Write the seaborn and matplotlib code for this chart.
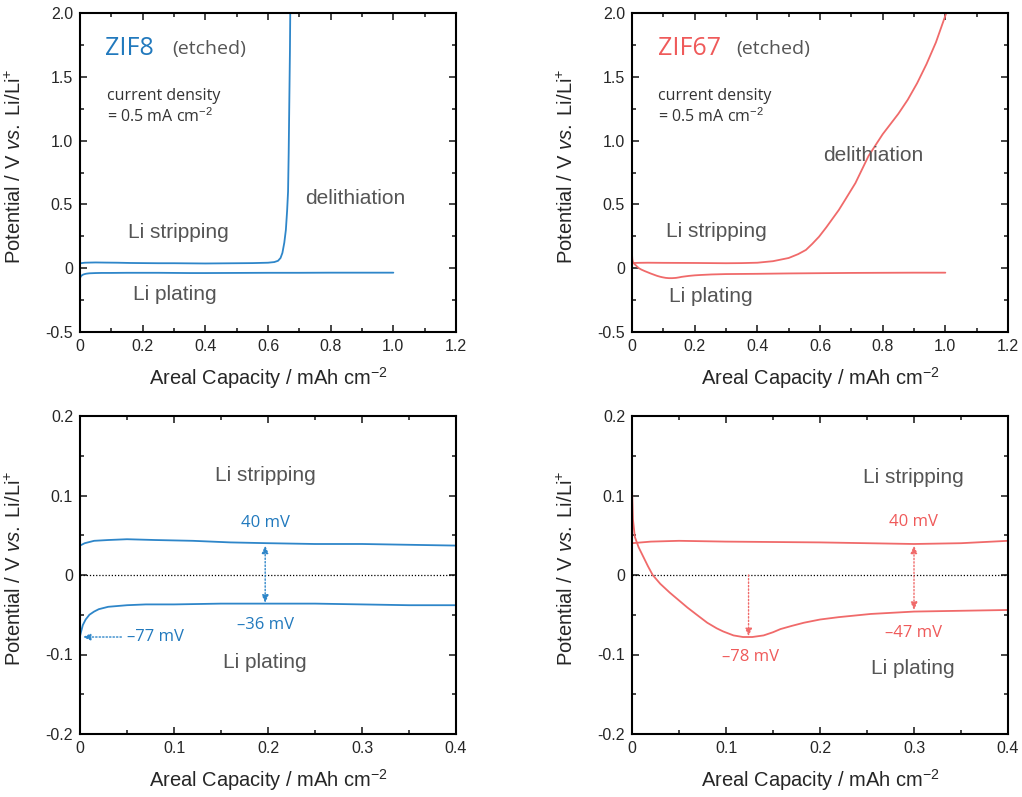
import matplotlib
matplotlib.use("Agg")
import matplotlib.pyplot as plt
import seaborn as sns
import pandas as pd
from matplotlib.ticker import MultipleLocator, FuncFormatter

# ---------------- data ----------------
zif8_strip_x = [0.0, 0.005, 0.015, 0.03, 0.05, 0.08, 0.12, 0.16, 0.2, 0.25, 0.3, 0.35, 0.4,
                0.45, 0.5, 0.55, 0.6, 0.62, 0.632, 0.64, 0.646, 0.652, 0.657, 0.661, 0.664,
                0.666, 0.668, 0.670, 0.671]
zif8_strip_y = [0.037, 0.040, 0.043, 0.044, 0.045, 0.044, 0.043, 0.041, 0.040, 0.039, 0.039,
                0.038, 0.037, 0.038, 0.039, 0.040, 0.043, 0.048, 0.058, 0.08, 0.12, 0.2, 0.3,
                0.45, 0.6, 0.9, 1.3, 1.7, 2.0]
zif8_plate_x = [0.0, 0.001, 0.003, 0.006, 0.01, 0.015, 0.02, 0.03, 0.04, 0.05, 0.07, 0.1, 0.15,
                0.2, 0.25, 0.3, 0.35, 0.4, 0.5, 0.6, 0.7, 0.8, 0.9, 1.0]
zif8_plate_y = [-0.077, -0.072, -0.063, -0.056, -0.050, -0.046, -0.043, -0.040, -0.039, -0.038,
                -0.037, -0.037, -0.036, -0.036, -0.036, -0.037, -0.038, -0.038, -0.037, -0.036,
                -0.036, -0.035, -0.035, -0.035]

zif67_strip_x = [0.0, 0.02, 0.05, 0.1, 0.2, 0.3, 0.35, 0.4, 0.45, 0.5, 0.53, 0.555, 0.575, 0.597,
                 0.62, 0.66, 0.68, 0.713, 0.755, 0.8, 0.85, 0.88, 0.91, 0.94, 0.97, 1.003]
zif67_strip_y = [0.040, 0.042, 0.043, 0.042, 0.041, 0.039, 0.040, 0.043, 0.055, 0.08, 0.11,
                 0.143, 0.19, 0.247, 0.32, 0.456, 0.535, 0.667, 0.88, 1.05, 1.21, 1.32, 1.45,
                 1.60, 1.77, 2.0]
zif67_plate_x = [0.0, 0.001, 0.003, 0.007, 0.012, 0.017, 0.022, 0.03, 0.04, 0.05, 0.059, 0.07,
                 0.08, 0.09, 0.097, 0.108, 0.118, 0.128, 0.14, 0.15, 0.158, 0.17, 0.183, 0.2,
                 0.22, 0.254, 0.3, 0.35, 0.4, 0.5, 0.6, 0.7, 0.8, 0.9, 1.0]
zif67_plate_y = [0.11, 0.07, 0.048, 0.035, 0.023, 0.011, 0.0, -0.011, -0.022, -0.032, -0.041,
                 -0.051, -0.060, -0.067, -0.071, -0.076, -0.078, -0.078, -0.076, -0.072, -0.068,
                 -0.064, -0.060, -0.056, -0.053, -0.049, -0.046, -0.045, -0.044, -0.041, -0.039,
                 -0.037, -0.036, -0.035, -0.035]

full_xticks = [0, 0.2, 0.4, 0.6, 0.8, 1.0, 1.2]
full_yticks = [-0.5, 0, 0.5, 1.0, 1.5, 2.0]
zoom_xticks = [0, 0.1, 0.2, 0.3, 0.4]
zoom_yticks = [-0.2, -0.1, 0, 0.1, 0.2]

# ---------------- style ----------------
sns.set_style("ticks")
plt.rcParams['font.family'] = ['Liberation Sans', 'DejaVu Sans']
plt.rcParams['mathtext.fontset'] = 'custom'
plt.rcParams['mathtext.rm'] = 'Liberation Sans'
plt.rcParams['mathtext.it'] = 'Liberation Sans:italic'
plt.rcParams['mathtext.bf'] = 'Liberation Sans:bold'
plt.rcParams['axes.unicode_minus'] = False

BLUE = "#2e86c9"
BLUE_T = "#2179bd"
RED = "#f06a6a"
RED_T = "#ef5a5a"
GRAY = "#555555"
DARK = "#333333"

W, H = 1022, 797
fig = plt.figure(figsize=(W / 100, H / 100), dpi=100)


def pos(l, t, r, b):
    return [l / W, 1 - b / H, (r - l) / W, (b - t) / H]


fmt = FuncFormatter(lambda v, p: "0" if abs(v) < 1e-9 else f"{v:.1f}")

XLABEL = "Areal Capacity / mAh cm$^{-2}$"
YLABEL = r"Potential / V $\it{vs.}$ Li/Li$^{+}$"


def style(ax, xticks, yticks, xminor, yminor):
    ax.set_xlim(xticks[0], xticks[-1])
    ax.set_ylim(yticks[0], yticks[-1])
    ax.set_xticks(xticks)
    ax.set_yticks(yticks)
    ax.xaxis.set_minor_locator(MultipleLocator(xminor))
    ax.yaxis.set_minor_locator(MultipleLocator(yminor))
    ax.xaxis.set_major_formatter(fmt)
    ax.yaxis.set_major_formatter(fmt)
    ax.tick_params(which='both', direction='in', top=True, right=True, width=1.2,
                   labelsize=11.5, pad=5)
    ax.tick_params(which='major', length=5)
    ax.tick_params(which='minor', length=3)
    for s in ax.spines.values():
        s.set_linewidth(1.5)
        s.set_color('black')
    ax.set_xlabel(XLABEL, fontsize=14.5)
    ax.set_ylabel(YLABEL, fontsize=14.5)
    ax.xaxis.set_label_coords(0.5, -0.105)
    ax.yaxis.set_label_coords(-0.145, 0.52)


def draw(ax, sx, sy, px, py, color):
    sns.lineplot(x=sx, y=sy, ax=ax, color=color, lw=1.3, sort=False, estimator=None)
    sns.lineplot(x=px, y=py, ax=ax, color=color, lw=1.3, sort=False, estimator=None)


ax_tl = fig.add_axes(pos(80, 13, 456, 332))
ax_tr = fig.add_axes(pos(632, 13, 1008, 332))
ax_bl = fig.add_axes(pos(80, 416, 456, 734))
ax_br = fig.add_axes(pos(632, 416, 1008, 734))

draw(ax_tl, zif8_strip_x, zif8_strip_y, zif8_plate_x, zif8_plate_y, BLUE)
draw(ax_bl, zif8_strip_x, zif8_strip_y, zif8_plate_x, zif8_plate_y, BLUE)
draw(ax_tr, zif67_strip_x, zif67_strip_y, zif67_plate_x, zif67_plate_y, RED)
draw(ax_br, zif67_strip_x, zif67_strip_y, zif67_plate_x, zif67_plate_y, RED)

for ax in (ax_tl, ax_tr):
    style(ax, full_xticks, full_yticks, 0.1, 0.25)
for ax in (ax_bl, ax_br):
    style(ax, zoom_xticks, zoom_yticks, 0.05, 0.05)
    ax.axhline(0, color='black', lw=0.9, ls=(0, (1, 1.5)), zorder=1)

ANN = 'Open Sans'
PH = dict(fontsize=15, color=GRAY, ha='center', va='center')

# top-left
ax_tl.text(0.08, 1.72, "ZIF8", color=BLUE_T, fontsize=18, family=ANN, va='center')
ax_tl.text(0.294, 1.72, "(etched)", color=GRAY, fontsize=14, family=ANN, va='center')
ax_tl.text(0.086, 1.35, "current density", color=DARK, fontsize=11.5, family=ANN, va='center')
ax_tl.text(0.086, 1.19, "= 0.5 mA cm$^{-2}$", color=DARK, fontsize=11.5, family=ANN, va='center')
ax_tl.text(0.879, 0.55, "delithiation", **PH)
ax_tl.text(0.313, 0.276, "Li stripping", **PH)
ax_tl.text(0.304, -0.21, "Li plating", **PH)

# top-right
ax_tr.text(0.083, 1.72, "ZIF67", color=RED_T, fontsize=18, family=ANN, va='center')
ax_tr.text(0.333, 1.72, "(etched)", color=GRAY, fontsize=14, family=ANN, va='center')
ax_tr.text(0.083, 1.35, "current density", color=DARK, fontsize=11.5, family=ANN, va='center')
ax_tr.text(0.083, 1.19, "= 0.5 mA cm$^{-2}$", color=DARK, fontsize=11.5, family=ANN, va='center')
ax_tr.text(0.771, 0.887, "delithiation", **PH)
ax_tr.text(0.27, 0.285, "Li stripping", **PH)
ax_tr.text(0.253, -0.223, "Li plating", **PH)


def arrow(ax, xy, xytext, color, both=True):
    style_ = "<|-|>" if both else "-|>"
    ax.annotate("", xy=xy, xytext=xytext,
                arrowprops=dict(arrowstyle=style_ + ",head_length=0.45,head_width=0.2",
                                color=color, lw=1.0, linestyle=(0, (1, 1.5)),
                                shrinkA=0, shrinkB=0))


# bottom-left
ax_bl.text(0.197, 0.125, "Li stripping", **PH)
ax_bl.text(0.197, -0.11, "Li plating", **PH)
ax_bl.text(0.197, 0.065, "40 mV", color=BLUE_T, fontsize=12, family=ANN, ha='center', va='center')
ax_bl.text(0.197, -0.063, "\u201336 mV", color=BLUE_T, fontsize=12, family=ANN, ha='center', va='center')
ax_bl.text(0.05, -0.078, "\u201377 mV", color=BLUE_T, fontsize=12, family=ANN, ha='left', va='center')
arrow(ax_bl, (0.197, 0.037), (0.197, -0.035), BLUE)
arrow(ax_bl, (0.003, -0.078), (0.044, -0.078), BLUE, both=False)

# bottom-right
ax_br.text(0.299, 0.123, "Li stripping", **PH)
ax_br.text(0.299, -0.117, "Li plating", **PH)
ax_br.text(0.299, 0.067, "40 mV", color=RED_T, fontsize=12, family=ANN, ha='center', va='center')
ax_br.text(0.299, -0.073, "\u201347 mV", color=RED_T, fontsize=12, family=ANN, ha='center', va='center')
ax_br.text(0.126, -0.103, "\u201378 mV", color=RED_T, fontsize=12, family=ANN, ha='center', va='center')
arrow(ax_br, (0.3, 0.037), (0.3, -0.044), RED)
arrow(ax_br, (0.124, -0.077), (0.124, 0.0), RED, both=False)

fig.savefig("out.png", dpi=100)
